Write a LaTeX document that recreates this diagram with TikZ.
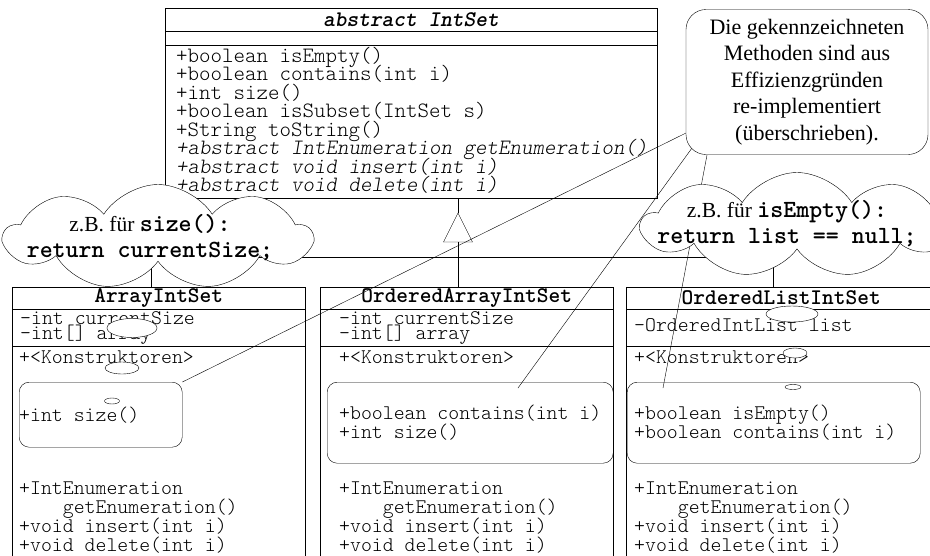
\documentclass[tikz,border=0pt]{standalone}
\usepackage{fontspec}
\setmainfont{Liberation Serif}
\setmonofont{lmmonolt10-regular.otf}[BoldFont=lmmonolt10-bold.otf,
  ItalicFont=lmmonolt10-oblique.otf, BoldItalicFont=lmmonolt10-boldoblique.otf]
\usetikzlibrary{shapes.symbols, calc}

\newcommand\codeword[1]{{\ttfamily\bfseries\fontsize{24.7}{26}\selectfont #1}}

\tikzset{
  classbox/.style={draw, anchor=north west, inner sep=0},
  classname/.style={inner sep=0, font=\ttfamily\bfseries\fontsize{22.3}{22}\selectfont},
  member/.style={anchor=base west, inner sep=0, font=\ttfamily\fontsize{20.8}{20}\selectfont},
  topmember/.style={member, font=\ttfamily\fontsize{21.9}{21}\selectfont},
  hilite/.style={draw, rounded corners=10pt, anchor=north west, inner sep=0},
  note/.style={draw, fill=white, rounded corners=20pt, align=center, inner sep=0,
    font=\fontsize{22}{26.5}\selectfont},
  thought/.style={cloud, draw, fill=white, cloud puffs=9, cloud puff arc=115,
    aspect=3, inner sep=0},
  saying/.style={align=center, inner sep=0, font=\fontsize{21.5}{26}\selectfont},
  bubble/.style={draw, fill=white}
}

\begin{document}
\begin{tikzpicture}[x=1pt, y=-1pt]
  \useasboundingbox (0,0) rectangle (930,555);
  \clip (0,0) rectangle (930,555);

  % abstract class
  \node[classbox, minimum width=492pt, minimum height=190pt] (intset) at (165,8) {};
  \draw (165,31) -- (657,31);
  \draw (165,45) -- (657,45);
  \node[classname, font=\ttfamily\bfseries\itshape\fontsize{22.3}{22}\selectfont]
    (intsetname) at (411,20) {abstract IntSet};
  \foreach \m [count=\i from 0] in {{+boolean isEmpty()}, {+boolean contains(int i)},
      {+int size()}, {+boolean isSubset(IntSet s)}, {+String toString()},
      {\itshape +abstract IntEnumeration getEnumeration()},
      {\itshape +abstract void insert(int i)}, {\itshape +abstract void delete(int i)}}
    \node[topmember] (top\i) at (176, 62+18.5*\i) {\m};

  % subclasses
  \foreach \bx/\tx/\nm/\w/\title in {12/19/A/293/ArrayIntSet, 320/339/B/293/OrderedArrayIntSet,
      626/634/C/310/OrderedListIntSet} {
    \node[classbox, minimum width=\w pt, minimum height=300pt] (\nm) at (\bx,287) {};
    \draw (\bx,309) -- ++(\w,0);
    \draw (\bx,346) -- ++(\w,0);
    \node[classname] (name\nm) at ($(\nm.north)+(0,11)$) {\title};
    \node[member] (kon\nm) at (\tx,363) {+<Konstruktoren>};
    \node[member] (enum\nm) at (\tx,494) {+IntEnumeration};
    \node[member] (getenum\nm) at (\tx,513) {\hphantom{+Int}getEnumeration()};
    \node[member] (ins\nm) at (\tx,532) {+void insert(int i)};
    \node[member] (del\nm) at (\tx,551) {+void delete(int i)};
  }
  \node[member] (sizeA) at (20,324) {-int currentSize};
  \node[member] (arrA) at (20,339) {-int[] array};
  \node[member] (sizeB) at (339,324) {-int currentSize};
  \node[member] (arrB) at (339,339) {-int[] array};
  \node[member] (listC) at (634,331) {-OrderedIntList list};

  % re-implemented methods
  \node[hilite, minimum width=163pt, minimum height=65pt] (hlA) at (19,382) {};
  \node[member] at (19,421) {+int size()};
  \node[hilite, minimum width=286pt, minimum height=81pt] (hlB) at (327,382) {};
  \node[member] at (339,419) {+boolean contains(int i)};
  \node[member] at (339,438) {+int size()};
  \node[hilite, minimum width=293pt, minimum height=81pt] (hlC) at (627,382) {};
  \node[member] at (634,419) {+boolean isEmpty()};
  \node[member] at (634,438) {+boolean contains(int i)};

  % inheritance
  \coordinate (tip) at (458,213);
  \draw (intset.south -| tip) -- (tip);
  \draw (tip) -- ++(-14.5,29) -- ++(29,0) -- cycle;
  \draw (tip) ++(0,29) -- (B.north -| tip);
  \draw ([xshift=-8pt]A.north) -- ++(0,-30) -| ([xshift=-8pt]C.north);

  % note
  \coordinate (n1) at (686,133);
  \coordinate (n2) at (692,148);
  \coordinate (n3) at (707,155);
  \coordinate (eB) at (518,388);
  \coordinate (eC) at (663,388);
  \draw (n1) -- (hlA.north east);
  \draw (n2) -- (eB);
  \draw (n3) -- (eC);
  \node[note, minimum width=242pt, minimum height=145pt] (note) at (807,82)
    {Die gekennzeichneten\\Methoden sind aus\\Effizienzgründen\\re-implementiert\\(überschrieben).};

  % thought clouds
  \node[thought, minimum width=307pt, minimum height=105pt] (cloudL) at (158,237) {};
  \node[saying] (sayL) at (150,238)
    {z.B. für \codeword{size():}\\\codeword{return currentSize;}};
  \node[thought, minimum width=310pt, minimum height=105pt] (cloudR) at (797,225) {};
  \node[saying] (sayR) at (787,224)
    {z.B. für \codeword{isEmpty():}\\\codeword{return list == null;}};

  \draw[bubble] (132,328) ellipse (25pt and 9.5pt);
  \draw[bubble] (122,368) ellipse (17pt and 6pt);
  \draw[bubble] (112,401) ellipse (7.5pt and 3pt);
  \draw[bubble] (792,314) ellipse (26pt and 8pt);
  \draw[bubble] (795,353) ellipse (12pt and 5pt);
  \draw[bubble] (793,387) ellipse (8pt and 2.5pt);
\end{tikzpicture}
\end{document}
